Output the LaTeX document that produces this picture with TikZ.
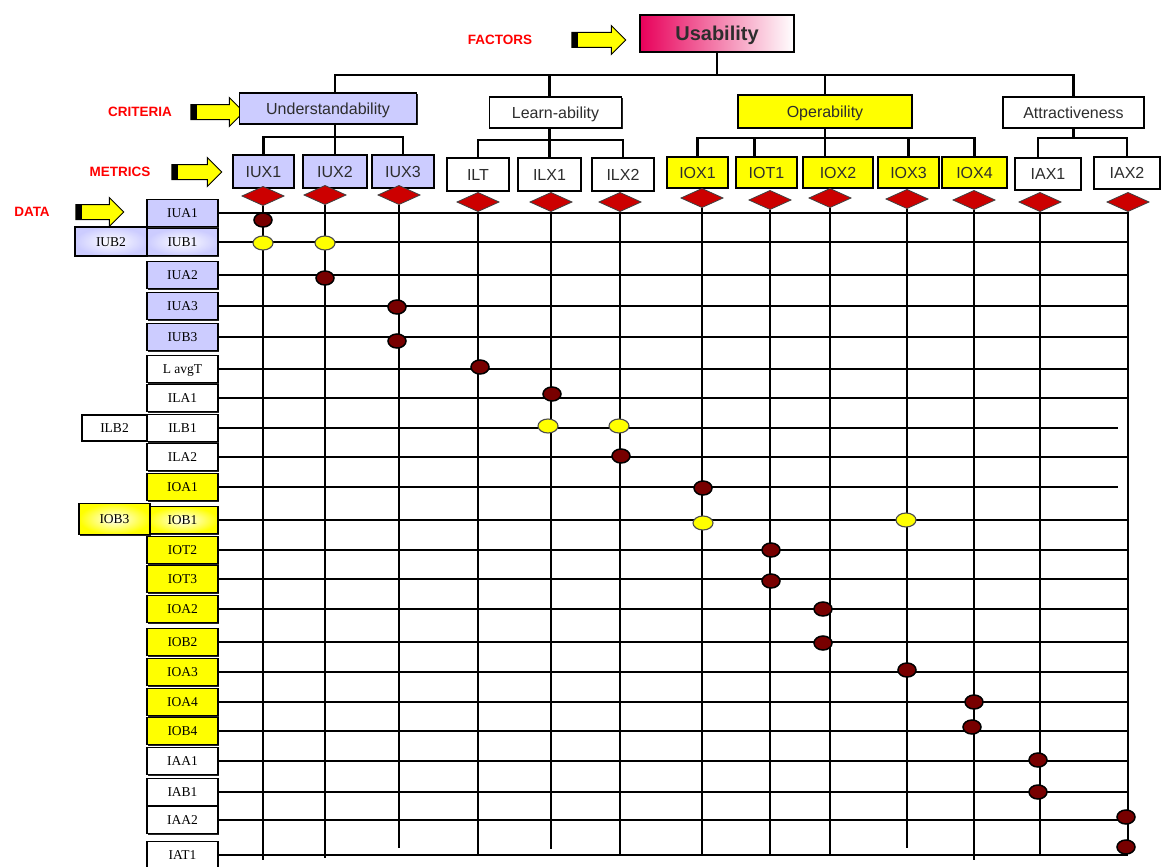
\documentclass[tikz,border=0pt]{standalone}
\usepackage{fontspec}
\setmainfont{Liberation Serif}
\newfontfamily\arialf{Liberation Sans}
\usetikzlibrary{shapes.geometric,shapes.arrows,shadows,calc}

\definecolor{lav}{RGB}{204,204,255}
\definecolor{yel}{RGB}{255,255,0}
\definecolor{dred}{RGB}{204,0,0}
\definecolor{maroon}{RGB}{120,0,0}
\definecolor{pinkred}{RGB}{232,0,90}
\definecolor{lblred}{RGB}{255,0,0}
\definecolor{txt}{RGB}{45,45,45}

\tikzset{
  every node/.style={outer sep=0pt},
  wire/.style={line width=2.2pt, black},
  sh/.style={drop shadow={shadow xshift=1.4pt, shadow yshift=-1.4pt, fill=black, opacity=0.85}},
  cbox/.style={draw=black, line width=1.3pt, sh, inner sep=0pt,
    text height=11.6pt, text depth=0pt,
    font=\arialf\fontsize{16}{18}\selectfont, text=txt},
  dbox/.style={draw=black, line width=1.3pt, sh, inner sep=0pt,
    text height=9.2pt, text depth=0pt,
    minimum width=71pt, minimum height=27pt, font=\fontsize{13.5}{15}\selectfont},
  glowlav/.style={shading=radial, inner color=white, outer color=lav},
  glowyel/.style={shading=radial, inner color=white, outer color=yel},
  dia/.style={diamond, draw=black!75, fill=dred, line width=0.8pt,
    minimum width=42pt, minimum height=19pt, inner sep=0pt},
  ddot/.style={ellipse, draw=black, line width=1.5pt, fill=maroon,
    minimum width=18pt, minimum height=14pt, inner sep=0pt},
  ydot/.style={ellipse, draw=black!70, line width=1.1pt, fill=yel,
    minimum width=20pt, minimum height=14pt, inner sep=0pt},
  rlbl/.style={text=lblred, font=\arialf\bfseries\fontsize{13.5}{15}\selectfont},
  yarr/.style={single arrow, draw=black, line width=1pt, fill=yel,
    inner xsep=0pt, inner ysep=7pt, single arrow head extend=7pt,
    minimum height=#1},
}

\begin{document}
\begin{tikzpicture}[x=1pt,y=-1pt]
\useasboundingbox (0,0) rectangle (1173,867);
\fill[white] (0,0) rectangle (1173,867);

% ---- level labels and pointer arrows
\node[rlbl] (lfac) at (500,40) {FACTORS};
\node[rlbl] (lcri) at (140,112) {CRITERIA};
\node[rlbl] (lmet) at (120,172) {METRICS};
\node[rlbl] (ldat) at (32,212) {DATA};

\node[yarr=54pt] (afac) at (595,40) {};
\node[yarr=53pt] (acri) at (213.5,112) {};
\node[yarr=50pt] (amet) at (193,172) {};
\node[yarr=48pt] (adat) at (96,212) {};
\foreach \a in {afac,acri,amet,adat}
  \fill[black] ([yshift=7pt]\a.tail) rectangle ([xshift=6pt,yshift=-7pt]\a.tail);

% ---- factor
\node[draw=black, line width=1.3pt, sh, left color=pinkred, right color=white,
  minimum width=154pt, minimum height=37pt, inner sep=0pt, text=txt,
  text height=14.5pt, text depth=0pt,
  font=\arialf\bfseries\fontsize{20}{22}\selectfont] (usab) at (717,33.5) {Usability};

% ---- criteria
\node[cbox, fill=lav, minimum width=177pt, minimum height=31pt] (und) at (328,108.5) {Understandability};
\node[cbox, fill=white, minimum width=132pt, minimum height=31pt] (learn) at (555.5,112.5) {Learn-ability};
\node[cbox, fill=yel, minimum width=174pt, minimum height=33pt] (oper) at (825,111.5) {Operability};
\node[cbox, fill=white, minimum width=141pt, minimum height=31pt] (attr) at (1073.5,112.5) {Attractiveness};

% ---- metrics
\node[cbox, fill=lav, minimum width=61pt, minimum height=33pt] (iux1) at (263.5,171.5) {IUX1};
\node[cbox, fill=lav, minimum width=64pt, minimum height=33pt] (iux2) at (335,171.5) {IUX2};
\node[cbox, fill=lav, minimum width=62pt, minimum height=33pt] (iux3) at (403,171.5) {IUX3};
\node[cbox, fill=white, minimum width=62pt, minimum height=33pt] (ilt) at (478,174.5) {ILT};
\node[cbox, fill=white, minimum width=63pt, minimum height=33pt] (ilx1) at (549.5,174.5) {ILX1};
\node[cbox, fill=white, minimum width=62pt, minimum height=33pt] (ilx2) at (623,174.5) {ILX2};
\node[cbox, fill=yel, minimum width=61pt, minimum height=31pt] (iox1) at (697.5,172.5) {IOX1};
\node[cbox, fill=yel, minimum width=61pt, minimum height=31pt] (iot1) at (766.5,172.5) {IOT1};
\node[cbox, fill=yel, minimum width=70pt, minimum height=31pt] (iox2) at (838,172.5) {IOX2};
\node[cbox, fill=yel, minimum width=61pt, minimum height=31pt] (iox3) at (908.5,172.5) {IOX3};
\node[cbox, fill=yel, minimum width=65pt, minimum height=31pt] (iox4) at (974.5,172.5) {IOX4};
\node[cbox, fill=white, minimum width=66pt, minimum height=32pt] (iax1) at (1048,174) {IAX1};
\node[cbox, fill=white, minimum width=66pt, minimum height=32pt] (iax2) at (1127,173) {IAX2};

% ---- tree connectors
\coordinate (bus) at (0,75);
\coordinate (ub) at (0,137);
\coordinate (lb) at (0,140);
\coordinate (ob) at (0,138);
\coordinate (ab) at (0,138);
\coordinate (undtop) at (und.north -| iux2.north);
\coordinate (learntop) at (learn.north -| ilx1.north);
\coordinate (t8) at ([xshift=-12pt]iot1.north);
\coordinate (t12) at ([xshift=-10pt]iax1.north);

\draw[wire] (usab.south) -- (usab.south |- bus);
\draw[wire] (undtop) -- (undtop |- bus) -- (attr.north |- bus) -- (attr.north);
\draw[wire] (learntop) -- (learntop |- bus);
\draw[wire] (oper.north) -- (oper.north |- bus);

\draw[wire] (iux2.north |- und.south) -- (iux2.north);
\draw[wire] (iux1.north) -- (iux1.north |- ub) -- (iux3.north |- ub) -- (iux3.north);

\draw[wire] (ilx1.north |- learn.south) -- (ilx1.north);
\draw[wire] (ilt.north) -- (ilt.north |- lb) -- (ilx2.north |- lb) -- (ilx2.north);

\draw[wire] (oper.south) -- (oper.south |- iox2.north);
\draw[wire] (iox1.north) -- (iox1.north |- ob) -- (iox4.north |- ob) -- (iox4.north);
\draw[wire] (t8) -- (t8 |- ob);
\draw[wire] (iox3.north) -- (iox3.north |- ob);

\draw[wire] (attr.south) -- (attr.south |- ab);
\draw[wire] (t12) -- (t12 |- ab) -- (iax2.north |- ab) -- (iax2.north);

% ---- data items
\node[dbox, fill=lav] (r1) at (182.5,213) {IUA1};
\node[dbox, glowlav] (r2) at (182.5,242) {IUB1};
\node[dbox, fill=lav] (r3) at (182.5,275) {IUA2};
\node[dbox, fill=lav] (r4) at (182.5,306) {IUA3};
\node[dbox, fill=lav] (r5) at (182.5,337) {IUB3};
\node[dbox, fill=white] (r6) at (182.5,369) {L avgT};
\node[dbox, fill=white] (r7) at (182.5,398) {ILA1};
\node[dbox, fill=white] (r8) at (182.5,428) {ILB1};
\node[dbox, fill=white] (r9) at (182.5,457) {ILA2};
\node[dbox, fill=yel] (r10) at (182.5,487) {IOA1};
\node[dbox, glowyel] (r11) at (182.5,520) {IOB1};
\node[dbox, fill=yel] (r12) at (182.5,550) {IOT2};
\node[dbox, fill=yel] (r13) at (182.5,579) {IOT3};
\node[dbox, fill=yel] (r14) at (182.5,609) {IOA2};
\node[dbox, fill=yel] (r15) at (182.5,642) {IOB2};
\node[dbox, fill=yel] (r16) at (182.5,672) {IOA3};
\node[dbox, fill=yel] (r17) at (182.5,702) {IOA4};
\node[dbox, fill=yel] (r18) at (182.5,731) {IOB4};
\node[dbox, fill=white] (r19) at (182.5,761) {IAA1};
\node[dbox, fill=white] (r20) at (182.5,792) {IAB1};
\node[dbox, fill=white] (r21) at (182.5,820) {IAA2};
\node[dbox, fill=white] (r22) at (182.5,855) {IAT1};

\node[dbox, glowlav, minimum width=72pt, minimum height=29pt] (x1) at (111,241.5) {IUB2};
\node[dbox, fill=white, minimum width=65pt, minimum height=26pt] (x2) at (114.5,428) {ILB2};
\node[dbox, glowyel, minimum width=71pt, minimum height=31pt] (x3) at (114.5,519) {IOB3};

% ---- diamonds under the metrics
\node[dia] (dx1) at (263,196) {};
\node[dia] (dx2) at (325,195) {};
\node[dia] (dx3) at (399,195) {};
\node[dia] (dx4) at (478,202) {};
\node[dia] (dx5) at (551,202) {};
\node[dia] (dx6) at (620,202) {};
\node[dia] (dx7) at (702,198) {};
\node[dia] (dx8) at (770,200) {};
\node[dia] (dx9) at (830,198) {};
\node[dia] (dx10) at (907,199) {};
\node[dia] (dx11) at (974,200) {};
\node[dia] (dx12) at (1040,202) {};
\node[dia] (dx13) at (1128,202) {};

% ---- grid: one line per data item, one per metric
\foreach \r in {r1,r2,r3,r4,r5,r6,r7,r9,r11,r12,r13,r14,r15,r16,r17,r18,r19,r20,r21,r22}
  \draw[wire] (\r.east) -- (\r.east -| dx13);
\foreach \r in {r8,r10}
  \draw[wire] (\r.east) -- ($(\r.east -| dx13)+(-10,0)$);

\foreach \d/\e in {dx1/860,dx2/858,dx3/848,dx4/855,dx5/849,dx6/855,dx7/855,
                   dx8/855,dx9/855,dx10/848,dx11/860,dx12/855,dx13/850}
  \draw[wire] (\d.south) -- (\d.south |- 0,\e);

% ---- links between data items and metrics
\node[ddot] (p1) at (263,220) {};
\node[ydot] (p2) at (263,243) {};
\node[ydot] (p3) at (325,243) {};
\node[ddot] (p4) at (325,278) {};
\node[ddot] (p5) at (397,307) {};
\node[ddot] (p6) at (397,341) {};
\node[ddot] (p7) at (480,367) {};
\node[ddot] (p8) at (552,394) {};
\node[ydot] (p9) at (548,426) {};
\node[ydot] (p10) at (619,426) {};
\node[ddot] (p11) at (621,456) {};
\node[ddot] (p12) at (703,488) {};
\node[ydot] (p13) at (703,523) {};
\node[ydot] (p14) at (906,520) {};
\node[ddot] (p15) at (771,550) {};
\node[ddot] (p16) at (771,581) {};
\node[ddot] (p17) at (823,609) {};
\node[ddot] (p18) at (823,643) {};
\node[ddot] (p19) at (907,670) {};
\node[ddot] (p20) at (974,702) {};
\node[ddot] (p21) at (972,727) {};
\node[ddot] (p22) at (1038,760) {};
\node[ddot] (p23) at (1038,792) {};
\node[ddot] (p24) at (1126,817) {};
\node[ddot] (p25) at (1126,847) {};
\end{tikzpicture}
\end{document}
